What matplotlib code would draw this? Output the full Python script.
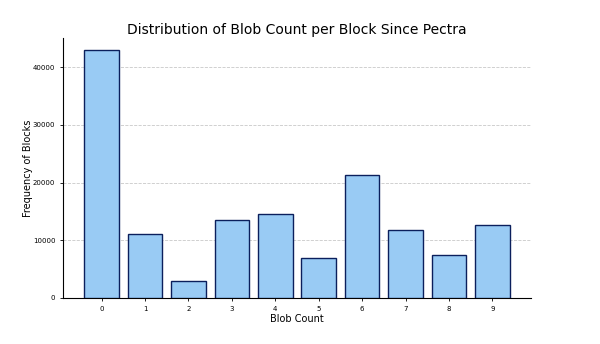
import matplotlib
matplotlib.use("Agg")
import matplotlib.pyplot as plt

blob_counts = [0, 1, 2, 3, 4, 5, 6, 7, 8, 9]
frequencies = [42950, 11050, 2900, 13480, 14520, 6960, 21300, 11740, 7390, 12700]

fig = plt.figure(figsize=(6, 3.44), dpi=100)
ax = fig.add_axes([0.105, 0.134, 0.780, 0.756])
ax.bar(blob_counts, frequencies, width=0.8, color="#99CBF4", edgecolor="#0B1F5C", linewidth=1.0, zorder=3)
ax.set_xticks(blob_counts)
ax.set_xticklabels([str(b) for b in blob_counts])
ax.set_yticks([0, 10000, 20000, 30000, 40000])
ax.tick_params(axis="both", labelsize=5, length=2, width=0.6)
ax.set_xlabel("Blob Count", fontsize=7, labelpad=2)
ax.set_ylabel("Frequency of Blocks", fontsize=7, labelpad=0)
ax.set_title("Distribution of Blob Count per Block Since Pectra", fontsize=10, pad=3)
ax.grid(axis="y", linestyle="--", color="#bbbbbb", linewidth=0.6, alpha=0.8, zorder=0)
ax.spines["top"].set_visible(False)
ax.spines["right"].set_visible(False)
ax.spines["left"].set_linewidth(0.8)
ax.spines["bottom"].set_linewidth(0.8)
fig.savefig("out.png", dpi=100)
